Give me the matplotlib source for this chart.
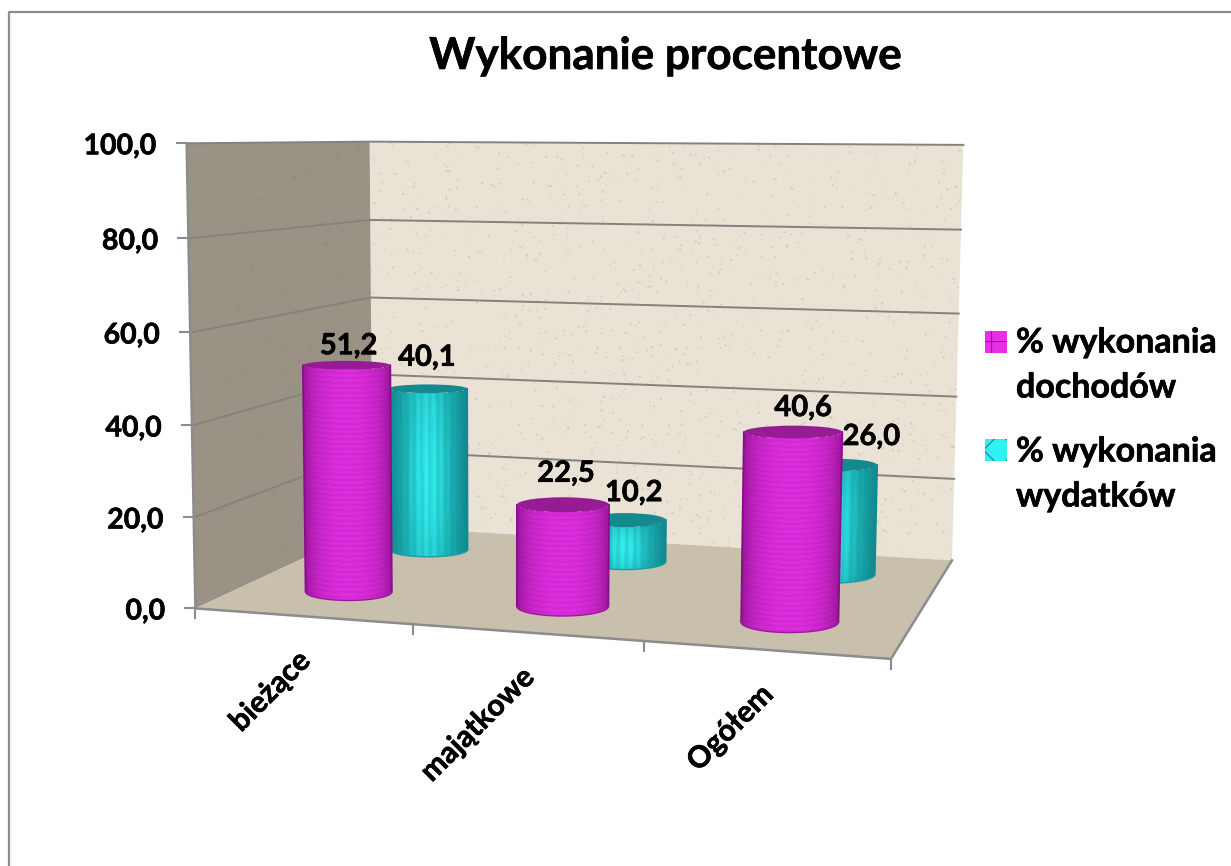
import numpy as np
import matplotlib
matplotlib.use('Agg')
import matplotlib.pyplot as plt
import matplotlib.patheffects as pe
from matplotlib.colors import LinearSegmentedColormap
from matplotlib.patches import Polygon, Ellipse, Rectangle

categories = ['bieżące', 'majątkowe', 'Ogółem']
income_pct = [51.2, 22.5, 40.6]
spending_pct = [40.1, 10.2, 26.0]
y_ticks = [0, 20, 40, 60, 80, 100]
legend_labels = ['% wykonania\ndochodów', '% wykonania\nwydatków']

plt.rcParams['font.family'] = ['Lato', 'DejaVu Sans']
plt.rcParams['font.weight'] = 'bold'
plt.rcParams['hatch.linewidth'] = 0.6

# scene box (category, depth, value) -> picture pixels, used to fit the perspective
box_world = [(0, 0, 0), (1, 0, 0), (2, 0, 0), (3, 0, 0), (0, 1, 0), (3, 1, 0),
             (0, 0, 100), (0, 1, 100), (3, 1, 100), (0, 0, 50), (3, 1, 40), (0, 1, 60)]
box_screen = [(197, 607), (413, 625), (645, 642), (890, 659), (371, 527), (952, 560),
              (185, 143), (371, 143), (963, 145), (191, 379), (957, 396), (371, 296)]
HORIZON_Y = 143

heavy = [pe.withStroke(linewidth=0.45, foreground='black')]


def fit_projection(world, screen):
    rows, rhs = [], []
    for (x, y, z), (u, v) in zip(world, screen):
        rows.append([x, y, z, 1, 0, 0, 0, 0, -u * x, -u * y, -u * z])
        rows.append([0, 0, 0, 0, x, y, z, 1, -v * x, -v * y, -v * z])
        rhs += [u, v]
    p = np.linalg.lstsq(np.array(rows, float), np.array(rhs, float), rcond=None)[0]
    return np.append(p, 1).reshape(3, 4)


P = fit_projection(box_world, box_screen)


def project(x, y, z):
    h = P @ np.array([x, y, z, 1.0])
    return h[0] / h[2], h[1] / h[2]


def hash01(idx, seed):
    return (np.sin(idx * seed) * 43758.5453) % 1


def draw_cylinder(ax, cat, depth, value, radius, cmap, cap_color, z, streaks=False):
    xb, yb = project(cat + 0.5, depth, 0)
    xt, yt = project(cat + 0.5, depth, value)
    # pixels per category unit at this depth gives the radius on screen
    rb = abs(project(cat + 0.5 + radius, depth, 0)[0] - project(cat + 0.5 - radius, depth, 0)[0]) / 2
    rt = abs(project(cat + 0.5 + radius, depth, value)[0] - project(cat + 0.5 - radius, depth, value)[0]) / 2
    # ellipses open up with distance below the horizon
    squash_t = 0.00045 * (yt - HORIZON_Y)
    squash_b = 0.00045 * (yb - HORIZON_Y)

    n_rows = max(int(yb - yt), 4)
    theta = np.linspace(np.pi, 0, 81)
    v = np.linspace(0, 1, n_rows + 1)
    tt, vv = np.meshgrid(theta, v)
    rr = rt + (rb - rt) * vv
    ss = squash_t + (squash_b - squash_t) * vv
    X = xt + (xb - xt) * vv + rr * np.cos(tt)
    Y = yt + (yb - yt) * vv + rr * ss * np.sin(tt)

    mid = (theta[:-1] + theta[1:]) / 2
    if streaks:
        shade = np.sin(mid) ** 3 * (0.9 + 0.1 * np.cos(31 * mid))
        C = np.tile(shade, (n_rows, 1)) * (0.82 + 0.18 * np.sin(np.linspace(0, np.pi, n_rows)))[:, None]
    else:
        shade = np.sin(mid) ** 0.9
        rings = 0.93 + 0.07 * np.cos(np.arange(n_rows) * 2 * np.pi / 5)
        C = np.tile(shade, (n_rows, 1)) * rings[:, None]
    ax.pcolormesh(X, Y, C, cmap=cmap, vmin=0, vmax=1, shading='flat', antialiased=False,
                  edgecolors='none', zorder=z)
    # clean silhouette over the unsmoothed mesh
    ax.plot(X[:, 0], Y[:, 0], color=cmap(0.0), lw=1.2, zorder=z + 0.05)
    ax.plot(X[:, -1], Y[:, -1], color=cmap(0.0), lw=1.2, zorder=z + 0.05)
    ax.plot(X[-1, :], Y[-1, :], color=cmap(0.3), lw=1.0, zorder=z + 0.05)
    ax.add_patch(Ellipse((xt, yt), 2 * rt, 2 * rt * squash_t, facecolor=cap_color,
                         edgecolor='none', zorder=z + 0.1))
    return xt, yt


fig = plt.figure(figsize=(12.31, 8.66), dpi=100, facecolor='white')
ax = fig.add_axes([0, 0, 1, 1])
ax.set_xlim(0, 1231)
ax.set_ylim(866, 0)
ax.axis('off')

# chart frame
ax.plot([9, 9, 1231], [866, 12, 12], color='#8c8c8c', lw=1.6, zorder=1)

ax.text(665, 56, 'Wykonanie procentowe', ha='center', va='center', fontsize=31.7,
        fontweight='bold', path_effects=heavy)

# walls and floor
back_wall = [project(*c) for c in [(0, 1, 0), (3, 1, 0), (3, 1, 100), (0, 1, 100)]]
left_wall = [project(*c) for c in [(0, 0, 0), (0, 1, 0), (0, 1, 100), (0, 0, 100)]]
floor = [project(*c) for c in [(0, 0, 0), (3, 0, 0), (3, 1, 0), (0, 1, 0)]]
back_patch = Polygon(back_wall, facecolor='#e9e2d5', edgecolor='none', zorder=2)
left_patch = Polygon(left_wall, facecolor='#9b9286', edgecolor='none', zorder=2)
floor_patch = Polygon(floor, facecolor='#c8c0ad', edgecolor='none', zorder=2)
for patch in (back_patch, left_patch, floor_patch):
    ax.add_patch(patch)

# stone texture, fixed hashed positions
idx = np.arange(1, 1800)
sx, sy, sz = hash01(idx, 12.9898), hash01(idx, 78.233), hash01(idx, 37.719)
spts = np.array([project(3 * a, 1, 100 * b) for a, b in zip(sx, sy)])
specks = ax.scatter(spts[:, 0], spts[:, 1], s=0.6 + 3 * sz ** 2, color='#bdb29e',
                    alpha=0.4, linewidths=0, zorder=2.1)
specks.set_clip_path(back_patch)
spts = np.array([project(0, a, 100 * b) for a, b in zip(sx[:500], sy[:500])])
specks = ax.scatter(spts[:, 0], spts[:, 1], s=0.5 + 2 * sz[:500] ** 2, color='#7f776c', alpha=0.35,
                    linewidths=0, zorder=2.1)
specks.set_clip_path(left_patch)

# gridlines and value axis
for tick in y_ticks:
    a, b, c = project(0, 0, tick), project(0, 1, tick), project(3, 1, tick)
    if tick > 0:
        ax.plot([a[0], b[0], c[0]], [a[1], b[1], c[1]], color='#84827e', lw=1.4, zorder=3)
    ax.plot([a[0] - 10, a[0]], [a[1], a[1]], color='#8c8c8c', lw=1.5, zorder=3)
    ax.text(a[0] - 30, a[1] + 3, f'{tick:.1f}'.replace('.', ','), ha='right', va='center',
            fontsize=20.5, path_effects=heavy)

edge = [project(0, 0, 100), project(0, 0, 0), project(3, 0, 0), project(3, 1, 0)]
ax.plot(*zip(*edge), color='#8c8c8c', lw=1.8, zorder=3)

# category axis
for i in range(len(categories) + 1):
    x0, y0 = project(i, 0, 0)
    ax.plot([x0, x0], [y0, y0 + 10], color='#8c8c8c', lw=1.5, zorder=3)
for i, name in enumerate(categories):
    x0, y0 = project(i + 0.5, 0, 0)
    ax.text(x0 - 7, y0 + 30, name, rotation=45, rotation_mode='anchor', ha='right', va='top',
            fontsize=21.5, path_effects=heavy)

magenta = LinearSegmentedColormap.from_list('mag', ['#870e87', '#b01db0', '#e02ee0'])
cyan = LinearSegmentedColormap.from_list('cy', ['#118a8f', '#1bb0b4', '#33eef0'])

income_offsets = [(2, -19), (3, -31), (10, -24)]
spending_offsets = [(-1, -31), (9, -27), (38, -28)]

for i, val in enumerate(spending_pct):
    xt, yt = draw_cylinder(ax, i, 0.75, val, 0.205, cyan, '#14898e', 5, streaks=True)
    ax.text(xt + spending_offsets[i][0], yt + spending_offsets[i][1], f'{val:.1f}'.replace('.', ','),
            ha='center', va='center', fontsize=21, zorder=8, path_effects=heavy)
for i, val in enumerate(income_pct):
    xt, yt = draw_cylinder(ax, i, 0.25, val, 0.208, magenta, '#981b96', 6)
    ax.text(xt + income_offsets[i][0], yt + income_offsets[i][1], f'{val:.1f}'.replace('.', ','),
            ha='center', va='center', fontsize=21, zorder=8, path_effects=heavy)

# legend
ax.add_patch(Rectangle((985, 331), 22, 22, facecolor='#e82fe8', edgecolor='#5a2a5a', hatch='+', lw=0, zorder=4))
ax.add_patch(Rectangle((985, 439), 22, 22, facecolor='#2ef2f2', edgecolor='#1f5f60', hatch='x', lw=0, zorder=4))
ax.text(1016, 365, legend_labels[0], ha='left', va='center', fontsize=24.5, linespacing=1.5, path_effects=heavy)
ax.text(1016, 474, legend_labels[1], ha='left', va='center', fontsize=24.5, linespacing=1.5, path_effects=heavy)

fig.savefig('out.png', dpi=100)
